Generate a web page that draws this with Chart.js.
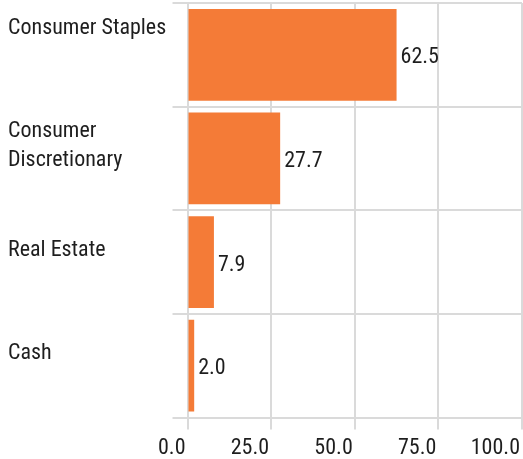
<!DOCTYPE html>
<html>
<head>
<meta charset="utf-8">
<script src="https://cdn.jsdelivr.net/npm/chart.js@4"></script>
<style>
  html, body { margin: 0; padding: 0; background: #fff; }
  #c { display: block; }
</style>
</head>
<body>
<canvas id="c" width="523" height="459"></canvas>
<script>
const categories = [["Consumer Staples", ""], ["Consumer", "Discretionary"], "Real Estate", "Cash"];
const values = [62.5, 27.7, 7.9, 2.0];
const xTicks = [0, 25, 50, 75, 100];

const FONT = "'Liberation Sans Narrow', 'Roboto Condensed', 'DejaVu Sans Condensed', sans-serif";
const FSIZE = 22;
const TEXT = '#1e1e1e';
const GRID = '#dadada';
const BAR = '#f47b37';

const valueLabels = {
  id: 'valueLabels',
  afterDatasetsDraw(chart) {
    const ctx = chart.ctx;
    const meta = chart.getDatasetMeta(0);
    ctx.save();
    ctx.font = FSIZE + "px " + FONT;
    ctx.fillStyle = TEXT;
    ctx.textAlign = 'left';
    ctx.textBaseline = 'middle';
    meta.data.forEach((bar, i) => {
      ctx.fillText(values[i].toFixed(1), bar.x + 4, bar.y + 3);
    });
    ctx.restore();
  }
};

new Chart(document.getElementById('c'), {
  type: 'bar',
  data: {
    labels: categories,
    datasets: [{
      data: values,
      backgroundColor: BAR,
      borderWidth: 0,
      categoryPercentage: 1,
      barPercentage: 0.885
    }]
  },
  options: {
    indexAxis: 'y',
    responsive: false,
    animation: false,
    layout: { padding: { left: 8, top: 3, right: 1, bottom: 0 } },
    plugins: { legend: { display: false }, tooltip: { enabled: false } },
    scales: {
      x: {
        min: 0,
        max: 100,
        afterBuildTicks(scale) { scale.ticks = xTicks.map(v => ({ value: v })); },
        afterFit(scale) {
          scale.height = 41.5;
          scale.paddingLeft = 0; scale.paddingRight = 0;
          scale.paddingTop = 0; scale.paddingBottom = 0;
        },
        grid: { color: GRID, lineWidth: 2, tickLength: 12, drawTicks: true },
        border: { display: false },
        ticks: {
          align: 'end',
          padding: 6,
          labelOffset: -2,
          color: TEXT,
          font: { family: FONT, size: FSIZE },
          callback: (v) => Number(v).toFixed(1)
        }
      },
      y: {
        afterFit(scale) {
          scale.width = 179.5;
          scale.paddingTop = 0; scale.paddingBottom = 0;
          scale.paddingLeft = 0; scale.paddingRight = 0;
        },
        grid: { color: GRID, lineWidth: 2, tickLength: 15, offset: true },
        border: { color: GRID, width: 2 },
        ticks: {
          crossAlign: 'far',
          labelOffset: -12,
          color: TEXT,
          font: { family: FONT, size: FSIZE, lineHeight: 29 / FSIZE }
        }
      }
    }
  },
  plugins: [valueLabels]
});
</script>
</body>
</html>
